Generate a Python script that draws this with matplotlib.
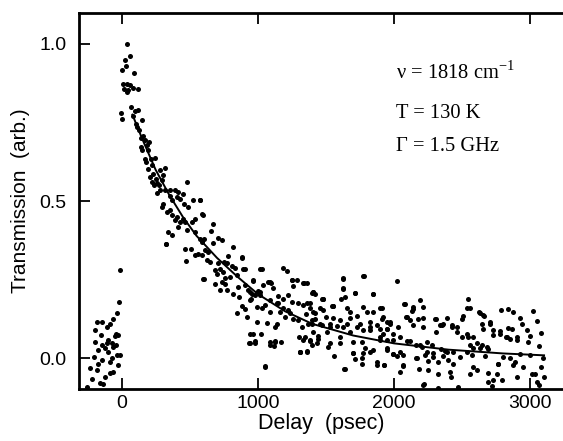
import matplotlib
matplotlib.use("Agg")
from matplotlib import pyplot as plt

# measured points (delay in psec, transmission in arb. units), read off the figure
# before time zero
delay_pre = [-11, -18, -35, -60, -84, -109, -145, -182, -43, -28, -43, -109, -141, -170,
             -121, -97, -72, -84, -145, -170, -182, -35, -11, -60, -84, -134, -158, -50,
             -194, -72, -60, -194, -25, -100, -150, -230, -215, -250, -200, -120]
trans_pre = [0.28, 0.18, 0.145, 0.127, 0.109, 0.10, 0.116, 0.115, 0.079, 0.074, 0.042, 0.048,
             0.042, 0.026, 0.032, 0.021, 0.0, -0.011, -0.005, -0.016, -0.037, 0.01, 0.01,
             -0.042, -0.046, -0.08, -0.077, 0.07, 0.053, 0.048, 0.035, 0.092, -0.02, 0.06,
             0.075, -0.03, -0.065, -0.09, 0.005, -0.06]

# peak and fast decay (0 - 600 psec)
delay_fast = [38, 62, 26, 33, 6, 94, 13, 38, 62, 21, 50, 38, 87, 119, -4, 1, 99, 119, 87,
              148, 111, 128, 160, 172, 202, 143, 185, 148, 192, 172, 177, 216, 246, 226, 197,
              209, 233, 251, 282, 319, 307, 221, 258, 240, 275, 295, 258, 282, 319, 356, 392,
              478, 453, 417, 356, 373, 405, 429, 461, 490, 527, 576, 307, 295, 332, 356, 373,
              405, 392, 429, 453, 466, 515, 539, 593, 417, 478, 339, 368, 539, 576, 588, 324,
              466, 510, 539, 563, 471, 600, 326, 140, 105, 70]
trans_fast = [0.998, 0.96, 0.949, 0.928, 0.918, 0.907, 0.873, 0.871, 0.868, 0.857, 0.854,
              0.846, 0.86, 0.857, 0.78, 0.762, 0.788, 0.79, 0.772, 0.757, 0.735, 0.725, 0.706,
              0.693, 0.688, 0.672, 0.677, 0.663, 0.663, 0.635, 0.626, 0.635, 0.638, 0.614,
              0.603, 0.577, 0.585, 0.571, 0.598, 0.606, 0.582, 0.561, 0.557, 0.55, 0.55, 0.566,
              0.526, 0.536, 0.534, 0.536, 0.534, 0.561, 0.524, 0.529, 0.518, 0.503, 0.513,
              0.508, 0.492, 0.481, 0.503, 0.503, 0.492, 0.481, 0.465, 0.471, 0.455, 0.45,
              0.439, 0.434, 0.444, 0.434, 0.434, 0.444, 0.46, 0.418, 0.407, 0.402, 0.391,
              0.402, 0.381, 0.37, 0.365, 0.349, 0.349, 0.328, 0.331, 0.31, 0.254, 0.365,
              0.70, 0.745, 0.80]

# middle part (600 - 1450 psec)
delay_mid = [576, 600, 669, 654, 605, 710, 735, 673, 820, 613, 637, 588, 649, 630, 710, 752,
             784, 772, 808, 833, 882, 686, 723, 747, 796, 845, 894, 1016, 605, 686, 735, 759,
             723, 772, 816, 864, 906, 857, 967, 930, 955, 979, 1016, 1077, 1094, 1040, 1187,
             1212, 1114, 943, 882, 906, 992, 1029, 1053, 1090, 845, 918, 992, 1065, 1126, 1139,
             1163, 1200, 1150, 1182, 1224, 1248, 1285, 1261, 1297, 1334, 1359, 1383, 1339,
             1224, 1261, 1297, 1322, 1371, 943, 938, 979, 1021, 1090, 1119, 1126, 1168, 1304,
             1334, 1383, 1310, 1363, 1053, 1395, 1407, 1407, 1420, 1248, 1334, 1395, 1310,
             1053, 700, 760, 950, 1000, 1150, 1250, 1350,
             882, 906, 1029, 967, 1090, 1359, 1407, 1481, 1236, 1187, 1139, 1090, 1016, 943,
             1346, 1444, 1126, 1090, 943, 967, 979, 1310, 1359]
trans_mid = [0.505, 0.457, 0.429, 0.405, 0.381, 0.384, 0.378, 0.367, 0.354, 0.344, 0.338,
             0.328, 0.307, 0.312, 0.303, 0.307, 0.325, 0.302, 0.293, 0.286, 0.323, 0.28, 0.283,
             0.275, 0.259, 0.264, 0.283, 0.283, 0.254, 0.236, 0.243, 0.238, 0.217, 0.217,
             0.204, 0.194, 0.233, 0.227, 0.246, 0.217, 0.206, 0.201, 0.211, 0.243, 0.24,
             0.233, 0.286, 0.278, 0.225, 0.187, 0.166, 0.156, 0.164, 0.159, 0.169, 0.148,
             0.145, 0.132, 0.116, 0.113, 0.10, 0.109, 0.148, 0.132, 0.175, 0.19, 0.201, 0.249,
             0.251, 0.23, 0.175, 0.169, 0.177, 0.159, 0.24, 0.153, 0.127, 0.122, 0.10, 0.111,
             0.077, 0.05, 0.056, 0.077, 0.053, 0.039, 0.056, 0.053, 0.067, 0.06, 0.056, 0.021,
             0.021, -0.027, 0.042, 0.084, 0.148, 0.206, 0.251, 0.24, 0.208, 0.021, -0.024,
             0.27, 0.255, 0.19, 0.215, 0.2, 0.18, 0.14,
             0.32, 0.283, 0.283, 0.249, 0.243, 0.24, 0.211, 0.19, 0.143, 0.159, 0.175, 0.185,
             0.201, 0.211, 0.069, 0.063, 0.053, 0.042, 0.048, 0.079, 0.05, 0.021, 0.024]

# slow tail (1400 - 2200 psec)
delay_tail1 = [1403, 1628, 1779, 2024, 1628, 1713, 1848, 1481, 1608, 2190, 1383, 1456, 1554,
               1652, 1897, 1481, 1803, 2080, 2137, 1420, 1420, 1500, 1554, 1603, 1676, 1725,
               1909, 1970, 2031, 2092, 2117, 2141, 2178, 1395, 1469, 1530, 1579, 1652, 1750,
               1823, 1872, 1946, 1994, 1823, 1774, 1676, 1505, 1444, 1383, 1432, 1517, 1603,
               1701, 1897, 1946, 2092, 2117, 2161, 2190, 1787, 1823, 1774, 1701, 1559, 1713,
               1950, 1990, 2024, 2063, 2161, 1762, 1872, 1926, 2068, 1632, 2043, 2185, 2214,
               1774, 1628, 1848, 1713, 1469, 1542, 1640, 2141, 2129, 2073, 1921, 2088, 1970,
               1946, 1921, 1897, 1994, 2043, 2166, 2043, 1994, 1926, 2068,
               1628, 1640, 1554, 1676, 1774, 1848, 1909, 1946, 1823, 1897, 1725, 1628, 1530,
               1456, 1395, 1530, 1603, 1762, 1848, 1946, 1872, 1762, 1701]
trans_tail1 = [0.211, 0.256, 0.262, 0.246, 0.224, 0.208, 0.206, 0.188, 0.19, 0.185, 0.177,
               0.162, 0.166, 0.162, 0.159, 0.153, 0.148, 0.172, 0.156, 0.145, 0.124, 0.132,
               0.13, 0.122, 0.13, 0.134, 0.127, 0.116, 0.10, 0.132, 0.122, 0.106, 0.124, 0.111,
               0.106, 0.111, 0.103, 0.111, 0.109, 0.116, 0.106, 0.095, 0.079, 0.092, 0.09,
               0.084, 0.084, 0.071, 0.058, 0.048, 0.037, 0.048, 0.053, 0.069, 0.058, 0.056,
               0.056, 0.042, 0.042, 0.032, 0.021, 0.016, 0.016, 0.007, -0.003, 0.026, 0.014,
               0.007, 0.01, 0.0, -0.018, -0.021, -0.021, -0.024, -0.035, -0.042, -0.032,
               -0.085, 0.261, 0.254, 0.206, 0.208, 0.19, 0.166, -0.032, 0.164, 0.151, 0.172,
               0.132, 0.132, 0.111, 0.095, 0.079, 0.058, 0.058, 0.069, 0.0, 0.02, 0.015,
               -0.021, -0.021,
               0.222, 0.196, 0.166, 0.148, 0.164, 0.148, 0.159, 0.116, 0.10, 0.095, 0.10, 0.10,
               0.10, 0.111, 0.122, 0.048, 0.069, 0.053, 0.026, 0.032, -0.011, 0.0, 0.016]

# slow tail (2200 - 3100 psec)
delay_tail2 = [2544, 2533, 2557, 2210, 2625, 2659, 2784, 2838, 2875, 2508, 2496, 2386, 2307,
               2214, 2924, 2937, 2973, 2338, 2361, 2422, 2214, 2642, 2703, 2723, 2777, 2838,
               2307, 2459, 2496, 2544, 2606, 2642, 2691, 2821, 2850, 2900, 2984, 2997, 2239,
               2276, 2202, 2342, 2373, 2434, 2557, 2582, 2227, 2288, 2361, 2483, 2569, 2667,
               2801, 2850, 2924, 2997, 2251, 2324, 2398, 2434, 2582, 2606, 2765, 2875, 2948,
               2251, 2324, 2410, 2415, 2557, 2691, 2752, 2900, 3010, 2691, 2728, 2789, 2219,
               2471, 2324, 2716, 2300, 2349, 2422, 2459, 2533, 2630, 2654, 2703, 2654, 2582,
               2728, 2777, 2826, 2862, 2900, 2630, 2679, 2533, 2386, 2288, 2239, 2765, 2887,
               3037, 3074, 3045, 3060, 3080, 3100, 3050, 3090, 3020, 3065]
trans_tail2 = [0.188, 0.159, 0.162, 0.164, 0.148, 0.134, 0.153, 0.156, 0.148, 0.134, 0.127,
               0.13, 0.127, 0.13, 0.13, 0.111, 0.092, 0.106, 0.109, 0.10, 0.10, 0.111, 0.116,
               0.09, 0.088, 0.098, 0.084, 0.084, 0.069, 0.069, 0.048, 0.042, 0.029, 0.069,
               0.063, 0.058, 0.053, 0.071, 0.053, 0.042, 0.037, 0.029, 0.024, 0.021, 0.042,
               0.032, 0.01, 0.005, 0.007, 0.005, 0.01, 0.007, 0.005, 0.0, 0.014, 0.01, -0.008,
               -0.011, -0.005, -0.016, -0.027, -0.037, -0.016, -0.021, -0.027, -0.037, -0.048,
               -0.042, -0.058, -0.048, -0.046, -0.048, -0.058, -0.048, -0.074, -0.069, -0.069,
               -0.082, -0.09, -0.095, -0.088, 0.127, 0.106, 0.106, 0.10, 0.077, 0.145, 0.137,
               0.111, 0.095, 0.069, 0.074, 0.079, 0.069, 0.095, 0.069, 0.032, 0.037, 0.021,
               0.021, 0.018, 0.02, -0.016, -0.011, -0.048, -0.027, -0.075, 0.04, 0.08, -0.06,
               0.12, 0.0, 0.15, -0.085]

# fitted decay curve
fit_delay = [80, 150, 250, 350, 450, 550, 700, 850, 1000, 1200, 1400, 1700, 2000, 2400,
             2800, 3100]
fit_trans = [0.775, 0.70, 0.60, 0.52, 0.45, 0.39, 0.32, 0.26, 0.205, 0.15, 0.11, 0.073,
             0.048, 0.028, 0.016, 0.01]

delay = delay_pre + delay_fast + delay_mid + delay_tail1 + delay_tail2
trans = trans_pre + trans_fast + trans_mid + trans_tail1 + trans_tail2

plt.rcParams["font.family"] = ["Liberation Sans", "DejaVu Sans"]

fig = plt.figure(figsize=(5.63, 4.41), dpi=100)
ax = fig.add_axes([0.1403, 0.1179, 0.8597, 0.8526])

ax.scatter(delay, trans, s=13, color="black", linewidths=0, zorder=3)
ax.plot(fit_delay, fit_trans, color="black", linewidth=1.4, zorder=4)

ax.set_xlim(-312, 3239)
ax.set_ylim(-0.097, 1.098)
ax.set_xticks([0, 1000, 2000, 3000])
ax.set_yticks([0.0, 0.5, 1.0])
ax.set_yticklabels(["0.0", "0.5", "1.0"])

for side in ["left", "bottom", "top"]:
    ax.spines[side].set_linewidth(2.0)
ax.spines["right"].set_visible(False)

ax.tick_params(axis="x", direction="in", length=8, width=1.3, top=True, labelsize=14, pad=4)
ax.tick_params(axis="y", direction="in", length=8, width=1.3, right=False, labelsize=14, pad=9)

ax.set_xlabel("Delay  (psec)", fontsize=15.5, labelpad=1)
ax.set_ylabel("Transmission  (arb.)", fontsize=15, labelpad=7)

serif = {"family": ["Liberation Serif", "DejaVu Serif"], "size": 14.8}
ax.text(0.655, 0.843, "\u03bd = 1818 cm$^{\\mathregular{-1}}$", transform=ax.transAxes,
        va="center", ha="left", fontdict=serif)
ax.text(0.655, 0.734, "T = 130 K", transform=ax.transAxes, va="center", ha="left",
        fontdict=serif)
ax.text(0.655, 0.646, "\u0393 = 1.5 GHz", transform=ax.transAxes, va="center", ha="left",
        fontdict=serif)

plt.savefig("out.png", dpi=100)
plt.close()
